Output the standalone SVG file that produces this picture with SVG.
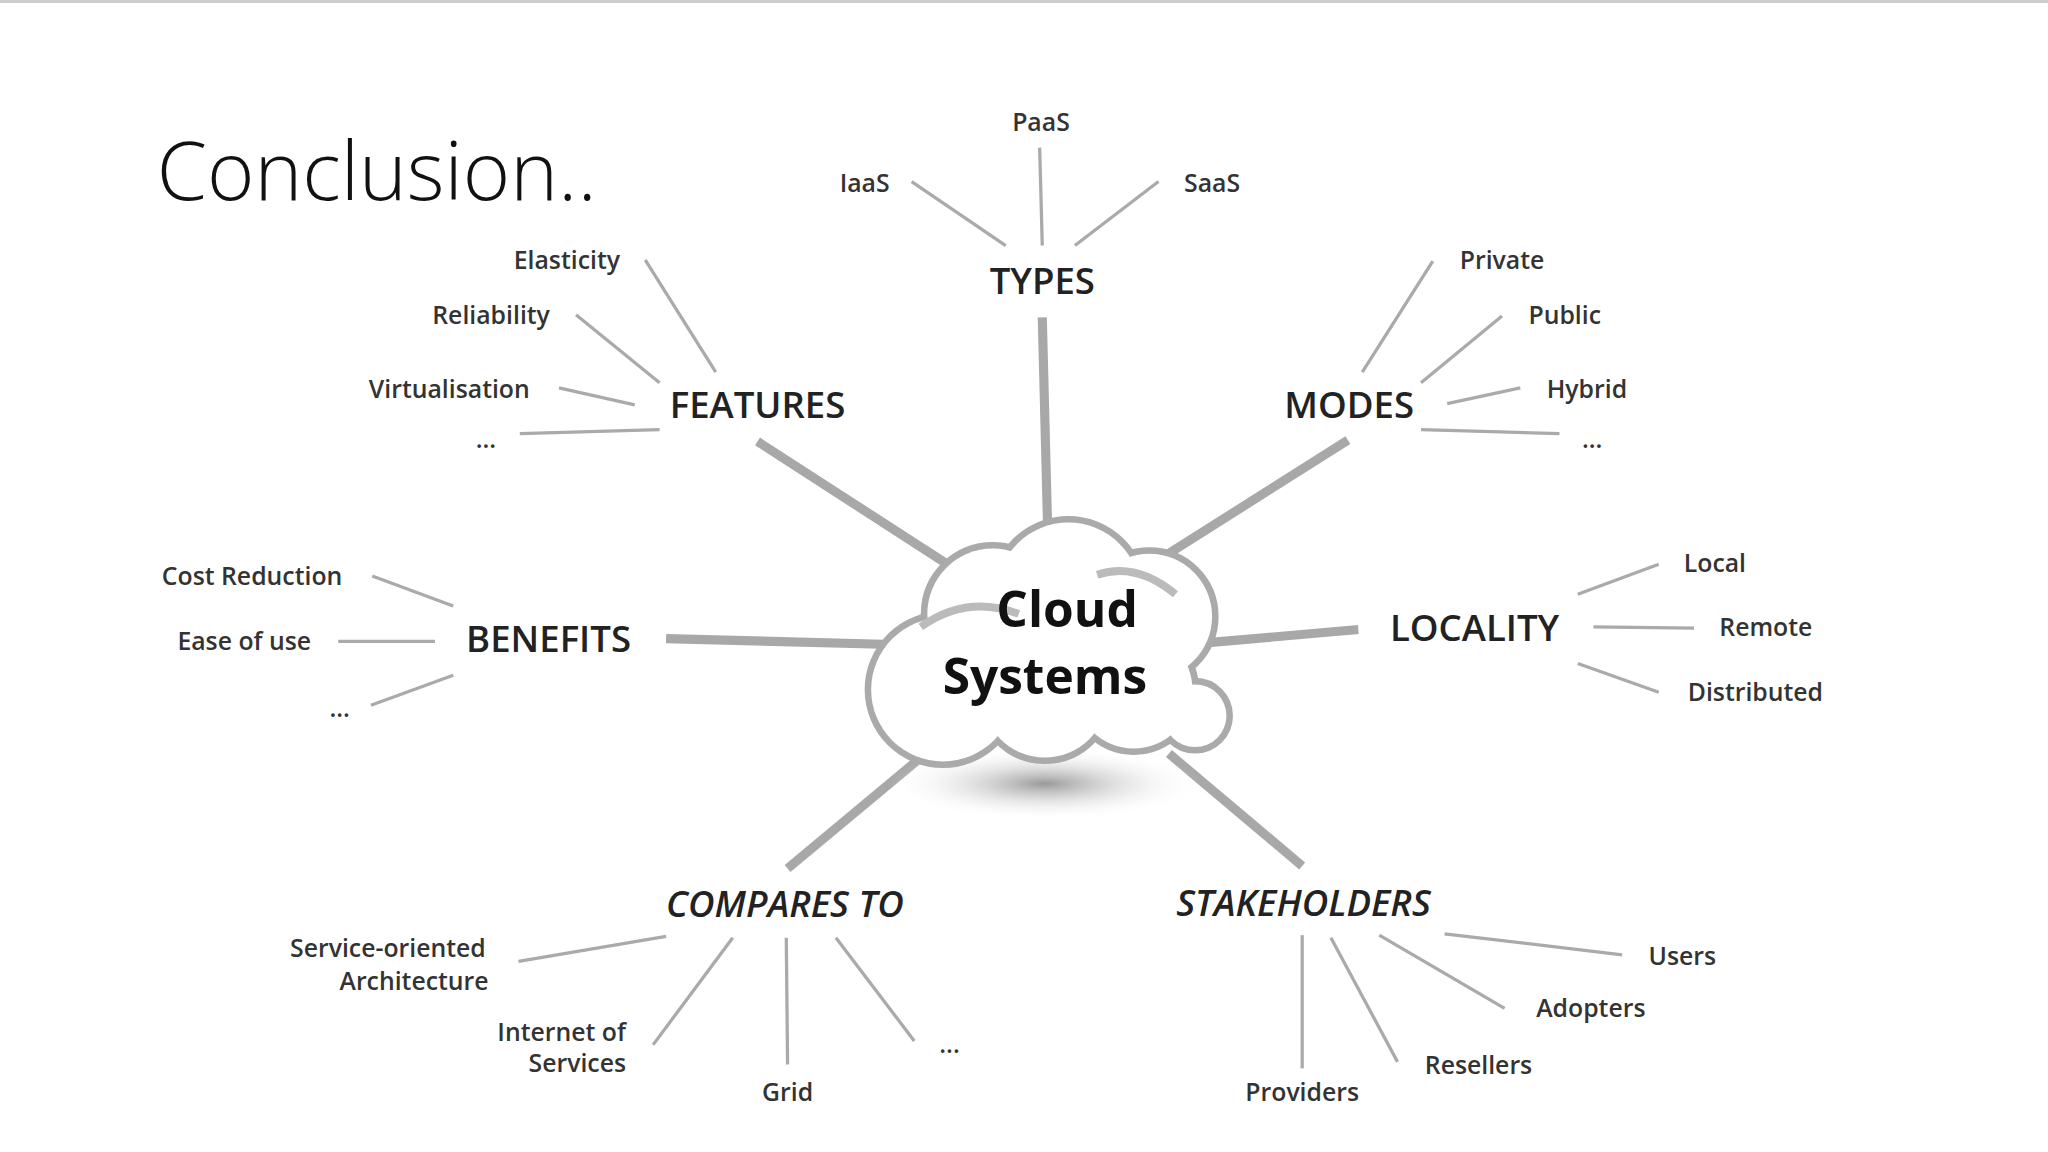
<svg xmlns="http://www.w3.org/2000/svg" width="2048" height="1152" viewBox="0 0 2048 1152">
<defs>
<style>
.t{font-family:"Open Sans","Liberation Sans",sans-serif;fill:#222;text-anchor:middle}
.s{font-size:19px;font-weight:600;fill:#333}
.b{font-size:28px;font-weight:600}
.i{font-style:italic}
.thin{stroke:#aaa;stroke-width:2.5;fill:none}
.thick{stroke:#a8a8a8;stroke-width:7;fill:none}
</style>
<radialGradient id="sh" cx="0.5" cy="0.5" r="0.5"><stop offset="0" stop-color="#999"/><stop offset="1" stop-color="#fff" stop-opacity="0"/></radialGradient>
</defs>
<rect width="2048" height="1152" fill="#fff"/>
<rect width="2048" height="3" fill="#ccc"/>
<g transform="scale(1.3061)">
<text x="120" y="153" style="font-family:'Open Sans','Liberation Sans',sans-serif;font-weight:300;font-size:62px;fill:#111">Conclusion..</text>
<g id="connectors">
<line class="thick" x1="798" y1="243" x2="802" y2="400"/>
<line class="thick" x1="580" y1="338" x2="730" y2="435"/>
<line class="thick" x1="1032" y1="337" x2="885" y2="430"/>
<line class="thick" x1="510" y1="489" x2="705" y2="494"/>
<line class="thick" x1="925" y1="492" x2="1040" y2="482"/>
<line class="thick" x1="603" y1="665" x2="705" y2="580"/>
<line class="thick" x1="997" y1="663" x2="895" y2="577"/>
<line class="thin" x1="698" y1="139" x2="770" y2="188"/>
<line class="thin" x1="796" y1="113" x2="798" y2="188"/>
<line class="thin" x1="887" y1="139" x2="823" y2="188"/>
<line class="thin" x1="494" y1="199" x2="548" y2="285"/>
<line class="thin" x1="441" y1="241" x2="505" y2="293"/>
<line class="thin" x1="428" y1="297" x2="486" y2="310"/>
<line class="thin" x1="398" y1="332" x2="505" y2="329"/>
<line class="thin" x1="1097" y1="200" x2="1043" y2="285"/>
<line class="thin" x1="1150" y1="242" x2="1088" y2="293"/>
<line class="thin" x1="1164" y1="297" x2="1108" y2="309"/>
<line class="thin" x1="1088" y1="329" x2="1194" y2="332"/>
<line class="thin" x1="285" y1="441" x2="347" y2="464"/>
<line class="thin" x1="259" y1="491" x2="333" y2="491"/>
<line class="thin" x1="284" y1="540" x2="347" y2="517"/>
<line class="thin" x1="1270" y1="432" x2="1208" y2="455"/>
<line class="thin" x1="1220" y1="480" x2="1297" y2="481"/>
<line class="thin" x1="1208" y1="508" x2="1270" y2="530"/>
<line class="thin" x1="397" y1="736" x2="510" y2="717"/>
<line class="thin" x1="500" y1="800" x2="561" y2="718"/>
<line class="thin" x1="602" y1="718" x2="603" y2="815"/>
<line class="thin" x1="640" y1="718" x2="700" y2="797"/>
<line class="thin" x1="1106" y1="715" x2="1242" y2="731"/>
<line class="thin" x1="1056" y1="716" x2="1152" y2="772"/>
<line class="thin" x1="1019" y1="718" x2="1070" y2="813"/>
<line class="thin" x1="997" y1="716" x2="997" y2="818"/>
</g>
<g id="cloud">
<ellipse cx="800" cy="600" rx="120" ry="28" fill="url(#sh)"/>
<g stroke="#aaa" stroke-width="10" fill="#fff">
<circle cx="818" cy="455" r="55"/><circle cx="760" cy="470" r="50"/><circle cx="880" cy="472" r="48"/>
<circle cx="722" cy="528" r="55"/><circle cx="800" cy="532" r="48"/><circle cx="868" cy="528" r="45"/><circle cx="915" cy="548" r="24"/>
</g>
<g fill="#fff">
<circle cx="818" cy="455" r="55"/><circle cx="760" cy="470" r="50"/><circle cx="880" cy="472" r="48"/>
<circle cx="722" cy="528" r="55"/><circle cx="800" cy="532" r="48"/><circle cx="868" cy="528" r="45"/><circle cx="915" cy="548" r="24"/>
</g>
<path d="M705,480 Q740,455 780,470 M840,440 Q870,430 900,455" stroke="#bbb" stroke-width="6" fill="none"/>
<text class="t" x="817" y="480" style="font-size:38px;font-weight:700;fill:#111">Cloud</text>
<text class="t" x="800" y="531" style="font-size:38px;font-weight:700;fill:#111">Systems</text>
</g>
<g id="types"><text class="t b" x="798" y="225">TYPES</text>
<text class="t s" x="662" y="147">IaaS</text><text class="t s" x="797" y="100">PaaS</text><text class="t s" x="928" y="147">SaaS</text></g>
<g id="features"><text class="t b" x="580" y="320">FEATURES</text>
<text class="t s" x="434" y="206">Elasticity</text><text class="t s" x="376" y="248">Reliability</text><text class="t s" x="344" y="305">Virtualisation</text><text class="t s" x="372" y="343">...</text></g>
<g id="modes"><text class="t b" x="1033" y="320">MODES</text>
<text class="t s" x="1150" y="206">Private</text><text class="t s" x="1198" y="248">Public</text><text class="t s" x="1215" y="305">Hybrid</text><text class="t s" x="1219" y="343">...</text></g>
<g id="benefits"><text class="t b" x="420" y="499">BENEFITS</text>
<text class="t s" x="193" y="448">Cost Reduction</text><text class="t s" x="187" y="498">Ease of use</text><text class="t s" x="260" y="549">...</text></g>
<g id="locality"><text class="t b" x="1129" y="491">LOCALITY</text>
<text class="t s" x="1313" y="438">Local</text><text class="t s" x="1352" y="487">Remote</text><text class="t s" x="1344" y="537">Distributed</text></g>
<g id="compares"><text class="t b i" x="601" y="702">COMPARES TO</text>
<text class="t s" x="297" y="733">Service-oriented</text><text class="t s" x="317" y="758">Architecture</text>
<text class="t s" x="430" y="797">Internet of</text><text class="t s" x="442" y="821">Services</text>
<text class="t s" x="603" y="843">Grid</text><text class="t s" x="727" y="806">...</text></g>
<g id="stakeholders"><text class="t b i" x="998" y="701">STAKEHOLDERS</text>
<text class="t s" x="1288" y="739">Users</text><text class="t s" x="1218" y="779">Adopters</text><text class="t s" x="1132" y="822">Resellers</text><text class="t s" x="997" y="843">Providers</text></g>
</g>
</svg>
